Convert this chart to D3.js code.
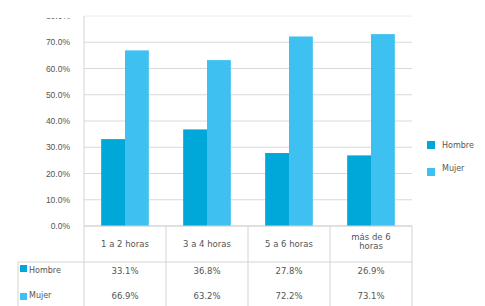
<!DOCTYPE html>
<html>
<head>
<meta charset="utf-8">
<script src="https://cdn.jsdelivr.net/npm/d3@7"></script>
<style>
  body { margin: 0; background: #fff; }
  svg { display: block; font-family: "DejaVu Sans", Verdana, sans-serif; }
  .tick text { fill: #555; font-size: 8.5px; }
</style>
</head>
<body>
<svg class="chart" width="485" height="306"></svg>
<script>
var categories = ["1 a 2 horas", "3 a 4 horas", "5 a 6 horas", "más de 6 horas"],
    seriesNames = ["Hombre", "Mujer"],
    hombre = [33.1, 36.8, 27.8, 26.9],
    mujer = [66.9, 63.2, 72.2, 73.1],
    yTicks = [0, 10, 20, 30, 40, 50, 60, 70, 80];

var colors = { Hombre: "#00a7d9", Mujer: "#3ec1f0" };

var svg = d3.select(".chart"),
    margin = { top: 16, left: 84, right: 73, bottom: 80 },
    width = +svg.attr("width") - margin.left - margin.right,
    height = +svg.attr("height") - margin.top - margin.bottom;

var x = d3.scaleBand().domain(categories).range([0, width]),
    x1 = d3.scaleBand().domain(seriesNames).range([0, x.bandwidth()]).paddingOuter(0.72),
    y = d3.scaleLinear().domain([0, 80]).range([height, 0]);

var data = categories.map(function(c, i) {
    return { cat: c, values: [{ key: "Hombre", v: hombre[i] }, { key: "Mujer", v: mujer[i] }] };
});

svg.append("defs").append("clipPath").attr("id", "topclip")
    .append("rect").attr("x", -80).attr("y", 2).attr("width", 100).attr("height", 400);

var g = svg.append("g")
    .attr("transform", "translate(" + margin.left + "," + margin.top + ")");

// grid lines
g.append("g")
    .selectAll("line")
    .data(yTicks)
    .enter().append("line")
    .attr("x1", 0).attr("x2", width)
    .attr("y1", function(d) { return y(d); })
    .attr("y2", function(d) { return y(d); })
    .attr("stroke", function(d) { return d == 80 ? "#eee" : "#d9d9d9"; });

// y axis
var yAxis = g.append("g")
    .attr("class", "axis axis--y")
    .attr("clip-path", "url(#topclip)")
    .call(d3.axisLeft(y).tickValues(yTicks).tickSize(0).tickPadding(14)
        .tickFormat(function(d) { return d.toFixed(1) + "%"; }));
yAxis.select(".domain").remove();

g.append("line")
    .attr("x1", 0).attr("x2", 0)
    .attr("y1", 0).attr("y2", svg.attr("height") - margin.top)
    .attr("stroke", "#d4d4d4");

// bars
g.selectAll(".grp")
    .data(data)
    .enter().append("g")
    .attr("class", "grp")
    .attr("transform", function(d) { return "translate(" + x(d.cat) + ",0)"; })
    .selectAll("rect")
    .data(function(d) { return d.values; })
    .enter().append("rect")
    .attr("x", function(d) { return x1(d.key); })
    .attr("y", function(d) { return y(d.v); })
    .attr("width", x1.bandwidth())
    .attr("height", function(d) { return height - y(d.v); })
    .attr("fill", function(d) { return colors[d.key]; });

// data table
var tableTop = height, headerH = 36, rowH = 25;
var tbl = g.append("g").attr("class", "table");

tbl.append("line")
    .attr("x1", 0).attr("x2", width)
    .attr("y1", tableTop).attr("y2", tableTop)
    .attr("stroke", "#d4d4d4");
tbl.append("line")
    .attr("x1", -66).attr("x2", width)
    .attr("y1", tableTop + headerH).attr("y2", tableTop + headerH)
    .attr("stroke", "#d4d4d4");
tbl.append("line")
    .attr("x1", -66).attr("x2", -66)
    .attr("y1", tableTop + headerH).attr("y2", 320)
    .attr("stroke", "#d4d4d4");

tbl.selectAll(".vline")
    .data(categories)
    .enter().append("line")
    .attr("class", "vline")
    .attr("x1", function(d) { return x(d) + x.bandwidth(); })
    .attr("x2", function(d) { return x(d) + x.bandwidth(); })
    .attr("y1", tableTop).attr("y2", 320)
    .attr("stroke", "#d4d4d4");

var catText = tbl.selectAll(".cat")
    .data(categories)
    .enter().append("text")
    .attr("class", "cat")
    .attr("text-anchor", "middle")
    .attr("font-size", "8.5px")
    .attr("fill", "#555")
    .attr("x", function(d) { return x(d) + x.bandwidth() / 2; })
    .attr("y", tableTop + 21);

catText.each(function(d) {
    var t = d3.select(this);
    if (d == "más de 6 horas") {
        t.attr("y", tableTop + 14);
        t.append("tspan").attr("x", t.attr("x")).text("más de 6");
        t.append("tspan").attr("x", t.attr("x")).attr("dy", "1.05em").text("horas");
    } else {
        t.text(d);
    }
});

var rows = [hombre, mujer];
rows.forEach(function(vals, r) {
    var ry = tableTop + headerH + 12 + r * rowH;
    tbl.selectAll(".val" + r)
        .data(vals)
        .enter().append("text")
        .attr("text-anchor", "middle")
        .attr("font-size", "8.5px")
        .attr("fill", "#555")
        .attr("x", function(d, i) { return x(categories[i]) + x.bandwidth() / 2; })
        .attr("y", ry)
        .text(function(d) { return d.toFixed(1) + "%"; });

    tbl.append("rect")
        .attr("x", -64).attr("y", ry - 9 + r * 3)
        .attr("width", 7).attr("height", 7)
        .attr("fill", colors[seriesNames[r]]);
    tbl.append("text")
        .attr("x", -55).attr("y", ry - 1)
        .attr("font-size", "8px")
        .attr("fill", "#555")
        .text(seriesNames[r]);
});

// legend
var legend = svg.append("g")
    .attr("transform", "translate(427,141)");
seriesNames.forEach(function(s, i) {
    legend.append("rect")
        .attr("x", 0).attr("y", i * 27)
        .attr("width", 8).attr("height", 8)
        .attr("fill", colors[s]);
    legend.append("text")
        .attr("x", 15).attr("y", i * 23 + 7)
        .attr("font-size", "8px")
        .attr("fill", "#555")
        .text(s);
});
</script>
</body>
</html>
